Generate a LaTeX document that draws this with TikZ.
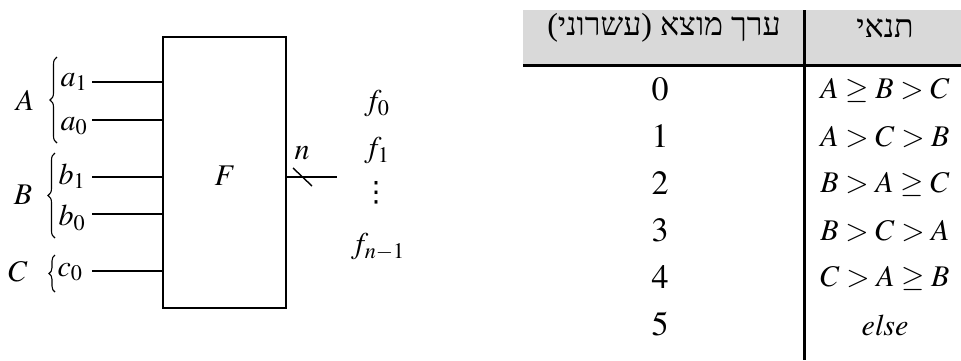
\documentclass[tikz,border=0pt]{standalone}
\usepackage{mathptmx}
\usepackage{fontspec}
\setmainfont{Liberation Serif}
\newfontfamily\hebfont[Script=Hebrew]{Liberation Serif}
\newfontfamily\dvsym{DejaVu Sans}
\TeXXeTstate=1
\usetikzlibrary{decorations.pathreplacing}
\tikzset{
  wire/.style={line width=1.6pt},
  brc/.style={decorate, decoration={brace, amplitude=7pt, aspect=0.5}, line width=1.1pt},
  lbl/.style={inner sep=0pt, font=\fontsize{30}{36}\selectfont},
  tbl/.style={inner sep=0pt, font=\fontsize{30}{36}\selectfont},
  num/.style={inner sep=0pt, font=\fontsize{34}{40}\selectfont},
  hdr/.style={inner sep=0pt, font=\fontsize{32}{38}\selectfont\hebfont},
}
\begin{document}
\begin{tikzpicture}[x=1pt,y=-1pt]
\useasboundingbox (0,0) rectangle (961,360);
% block
\node[draw, line width=1.6pt, minimum width=123pt, minimum height=271pt, inner sep=0pt] (F) at (224.5,172.5) {};
\node[lbl] (Flbl) at (225,176) {$F$};
% inputs
\coordinate (a1s) at (92,82);
\coordinate (a0s) at (92,120);
\coordinate (b1s) at (92,177);
\coordinate (b0s) at (92,214);
\coordinate (c0s) at (92,271);
\foreach \p in {a1s,a0s,b1s,b0s,c0s}{ \draw[wire] (\p) -- (\p -| F.west); }
\node[lbl] (a1) at (74,82) {$a_1$};
\node[lbl] (a0) at (74,126) {$a_0$};
\node[lbl] (b1) at (72,176) {$b_1$};
\node[lbl] (b0) at (72,218) {$b_0$};
\node[lbl] (c0) at (70,272) {$c_0$};
\node[lbl] (A) at (25,100) {$A$};
\node[lbl] (B) at (23,195) {$B$};
\node[lbl] (C) at (18,272) {$C$};
\coordinate (Abot) at (57,143); \coordinate (Atop) at (57,57);
\coordinate (Bbot) at (55,238); \coordinate (Btop) at (55,153);
\coordinate (Cbot) at (55,292); \coordinate (Ctop) at (55,255);
\draw[brc] (Abot) -- (Atop);
\draw[brc] (Bbot) -- (Btop);
\draw[brc, decoration={amplitude=6pt}] (Cbot) -- (Ctop);
% output
\coordinate (out) at (337,177);
\draw[wire] (F.east |- out) -- (out);
\coordinate (s1) at (293,168); \coordinate (s2) at (312,186);
\draw[line width=1.4pt] (s1) -- (s2);
\node[lbl] (n) at (302,153) {$n$};
\node[lbl] (f0) at (377,104) {$f_0$};
\node[lbl] (f1) at (377,151) {$f_1$};
\node[inner sep=0pt, font=\fontsize{28}{34}\selectfont\dvsym] (fd) at (376,193) {⋮};
\node[lbl] (fn) at (378,247) {$f_{n-1}$};
% table
\fill[gray!30] (523,10) rectangle (961,65);
\coordinate (hl) at (523,65); \coordinate (hr) at (961,65);
\coordinate (vt) at (804,10); \coordinate (vb) at (804,360);
\draw[line width=3pt] (hl) -- (hr);
\draw[line width=3pt] (vt) -- (vb);
\node[hdr] (h1) at (664,28) {\beginR ערך מוצא (עשרוני)\endR};
\node[hdr] (h2) at (885,28) {\beginR תנאי\endR};
\node[num] (r0) at (660,89) {$0$};
\node[num] (r1) at (660,136) {$1$};
\node[num] (r2) at (660,183) {$2$};
\node[num] (r3) at (660,230) {$3$};
\node[num] (r4) at (660,277) {$4$};
\node[num] (r5) at (660,324) {$5$};
\node[tbl] (c0r) at (885,90) {$A\geq B>C$};
\node[tbl] (c1r) at (885,137) {$A>C>B$};
\node[tbl] (c2r) at (885,184) {$B>A\geq C$};
\node[tbl] (c3r) at (885,231) {$B>C>A$};
\node[tbl] (c4r) at (885,278) {$C>A\geq B$};
\node[tbl] (c5r) at (885,325) {$\mathit{else}$};
\end{tikzpicture}
\end{document}
